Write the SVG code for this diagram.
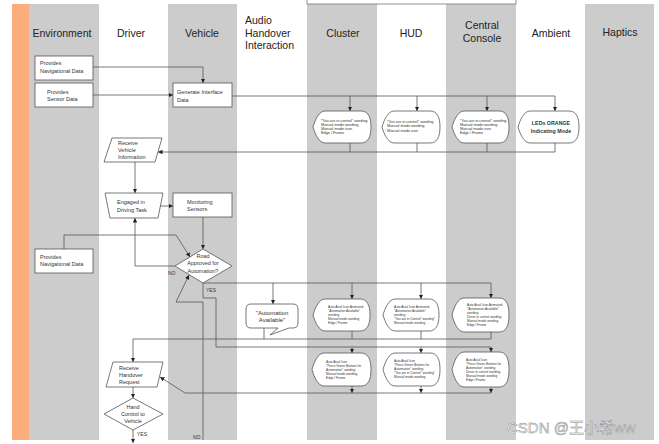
<svg xmlns="http://www.w3.org/2000/svg" width="659" height="444" viewBox="0 0 659 444">
<defs>
<marker id="ah" viewBox="0 0 8 8" markerWidth="4.5" markerHeight="4.5" refX="8" refY="4" orient="auto" markerUnits="userSpaceOnUse">
<path d="M0,0 L8,4 L0,8 z" fill="#222"/>
</marker>
</defs>
<style>
.lane{fill:#cccccc}
.title{font-family:"Liberation Sans",Arial,sans-serif;font-size:10.5px;fill:#222}
.box{fill:#fff;stroke:#555;stroke-width:0.8}
.t{font-family:"Liberation Sans",Arial,sans-serif;font-size:5.5px;fill:#333}
.s{font-family:"Liberation Sans",Arial,sans-serif;font-size:3.8px;fill:#333}
.xs{font-family:"Liberation Sans",Arial,sans-serif;font-size:3.2px;fill:#333}
.c{text-anchor:middle}
.ln{fill:none;stroke:#555;stroke-width:0.8}
.arr{marker-end:url(#ah)}
.lbl{font-family:"Liberation Sans",Arial,sans-serif;font-size:5px;fill:#333}
</style>
<rect width="659" height="444" fill="#fff"/>
<g id="lanes">
<rect x="12" y="4" width="17" height="436" fill="#fbae7c"/>
<rect class="lane" x="29" y="4" width="70" height="436"/>
<rect class="lane" x="168" y="4" width="69" height="436"/>
<rect class="lane" x="307" y="4" width="70" height="436"/>
<rect class="lane" x="446" y="4" width="70" height="436"/>
<rect class="lane" x="585" y="4" width="69" height="436"/>
<rect x="307" y="-10" width="209" height="14" fill="#fff" stroke="#777" stroke-width="0.8"/>
<text class="title c" x="62" y="37">Environment</text>
<text class="title c" x="131" y="37">Driver</text>
<text class="title c" x="202" y="37">Vehicle</text>
<text class="title" x="245" y="24">Audio</text>
<text class="title" x="245" y="37">Handover</text>
<text class="title" x="245" y="49">Interaction</text>
<text class="title c" x="343" y="37">Cluster</text>
<text class="title c" x="411" y="37">HUD</text>
<text class="title c" x="482" y="29">Central</text>
<text class="title c" x="482" y="42">Console</text>
<text class="title c" x="551" y="37">Ambient</text>
<text class="title c" x="620" y="36">Haptics</text>
</g>
<g id="connectors">
<path class="ln arr" d="M93,67 H203 V83"/>
<path class="ln arr" d="M93,95 H173"/>
<path class="ln" d="M232,96 H555"/>
<path class="ln arr" d="M350,96 V111"/>
<path class="ln arr" d="M417,96 V111"/>
<path class="ln arr" d="M487,96 V111"/>
<path class="ln arr" d="M555,96 V111"/>
<path class="ln" d="M350,143 V152 M417,143 V152 M487,143 V152"/>
<path class="ln arr" d="M555,143 V152 H158"/>
<path class="ln arr" d="M135,162 V193"/>
<path class="ln arr" d="M160,206 H173"/>
<path class="ln arr" d="M203,217 V249"/>
<path class="ln arr" d="M64,249 V235 H176 L190,257"/>
<path class="ln arr" d="M175,266 H135 V218"/>
<path class="ln" d="M203,283 H491"/>
<path class="ln arr" d="M273,283 V304"/>
<path class="ln arr" d="M352,283 V299"/>
<path class="ln arr" d="M421,283 V299"/>
<path class="ln arr" d="M491,283 V298"/>
<path class="ln" d="M203,283 V298 H216 V347 H491"/>
<path class="ln arr" d="M352,347 V353"/>
<path class="ln arr" d="M421,347 V353"/>
<path class="ln arr" d="M491,347 V352"/>
<path class="ln" d="M352,331 V339 M421,331 V339 M264,328 V339"/>
<path class="ln arr" d="M491,332 V339 H133 V362"/>
<path class="ln arr" d="M203,440 V302 H176 L189,275"/>
<path class="ln arr" d="M352,386 V393"/>
<path class="ln arr" d="M421,386 V393"/>
<path class="ln arr" d="M491,387 V393"/>
<path class="ln arr" d="M491,393 H185 L160,377"/>
<path class="ln arr" d="M133,387 V398"/>
<path class="ln arr" d="M133,430 V443"/>
<text class="lbl" x="168" y="275">NO</text>
<text class="lbl" x="206" y="292">YES</text>
<text class="lbl" x="193" y="439">NO</text>
<text class="lbl" x="137" y="436">YES</text>
</g>
<g id="nav1">
<rect class="box" x="35" y="56" width="58" height="24"/>
<text class="t" x="40" y="65">Provides</text>
<text class="t" x="40" y="72.5">Navigational Data</text>
</g>
<g id="sensor">
<rect class="box" x="35" y="83" width="58" height="24"/>
<text class="t" x="47" y="93.5">Provides</text>
<text class="t" x="47" y="101">Sensor Data</text>
</g>
<g id="generate">
<rect class="box" x="173" y="83" width="59" height="24"/>
<text class="t" x="177" y="94">Generate Interface</text>
<text class="t" x="177" y="101.5">Data</text>
</g>
<g id="cluster1">
<path class="box" d="M313,127 C315,120 319,111 325,111 H361 C368,111 371,117 371,127 C371,137 368,143 361,143 H325 C319,143 315,134 313,127 Z"/>
<text class="s" x="321" y="121.5">"You are in control"  wording</text>
<text class="s" x="321" y="125.8">Manual mode wording</text>
<text class="s" x="321" y="130">Manual mode icon</text>
<text class="s" x="321" y="134.3">Edge / Frame</text>
</g>
<g id="hud1">
<path class="box" d="M382,127 C384,120 388,111 394,111 H430 C437,111 440,117 440,127 C440,137 437,143 430,143 H394 C388,143 384,134 382,127 Z"/>
<text class="s" x="387" y="123">"You are in control" wording</text>
<text class="s" x="387" y="127.3">Manual mode wording</text>
<text class="s" x="387" y="131.5">Manual mode icon</text>
</g>
<g id="central1">
<path class="box" d="M452,127 C454,120 458,111 464,111 H499 C506,111 509,117 509,127 C509,137 506,143 499,143 H464 C458,143 454,134 452,127 Z"/>
<text class="s" x="460" y="121.5">"You are in control" wording</text>
<text class="s" x="460" y="125.8">Manual mode wording</text>
<text class="s" x="460" y="130">Manual mode icon</text>
<text class="s" x="460" y="134.3">Edge / Frame</text>
</g>
<g id="ambient">
<path class="box" d="M518,127 C520,120 524,111 530,111 H569 C576,111 579,117 579,127 C579,137 576,143 569,143 H530 C524,143 520,134 518,127 Z"/>
<text class="t c" x="551" y="125" style="font-size:5.3px;font-weight:bold">LEDs ORANGE</text>
<text class="t c" x="551" y="132.5" style="font-size:5.3px;font-weight:bold">Indicating Mode</text>
</g>
<g id="receiveVehicle">
<polygon class="box" points="112,138 162,138 155,162 104,162"/>
<text class="t" x="118" y="145">Receive</text>
<text class="t" x="118" y="152">Vehicle</text>
<text class="t" x="118" y="159">Information</text>
</g>
<g id="engaged">
<polygon class="box" points="105,193 163,193 158,218 110,218"/>
<text class="t" x="117" y="204">Engaged in</text>
<text class="t" x="117" y="212">Driving Task</text>
</g>
<g id="monitoring">
<rect class="box" x="173" y="193" width="59" height="24"/>
<text class="t" x="187" y="204">Monitoring</text>
<text class="t" x="187" y="211">Sensors</text>
</g>
<g id="nav2">
<rect class="box" x="35" y="249" width="58" height="24"/>
<text class="t" x="40" y="258.5">Provides</text>
<text class="t" x="40" y="266">Navigational Data</text>
</g>
<g id="road">
<polygon class="box" points="203,249 232,266 203,283 175,266"/>
<text class="t c" x="203" y="257.5">Road</text>
<text class="t c" x="203" y="265">Approved for</text>
<text class="t c" x="203" y="272.5">Automation?</text>
</g>
<g id="autoAvailable">
<path class="box" d="M251,304 H293 Q298,304 298,309 V323 Q298,328 293,328 H289 L270,335 L278,328 H251 Q246,328 246,323 V309 Q246,304 251,304 Z"/>
<text class="t c" x="272" y="314.5" style="font-size:6px">"Automation</text>
<text class="t c" x="272" y="322" style="font-size:6px">Available"</text>
</g>
<g id="cluster2">
<path class="box" d="M313,315 C315,308 319,299 325,299 H360 C367,299 370,305 370,315 C370,325 367,331 360,331 H325 C319,331 315,322 313,315 Z"/>
<text class="xs" x="328" y="308">Auto Avail Icon Animated</text>
<text class="xs" x="328" y="312">"Automation Available"</text>
<text class="xs" x="328" y="315.5">wording</text>
<text class="xs" x="328" y="320">Manual mode wording</text>
<text class="xs" x="328" y="324">Edge / Frame</text>
</g>
<g id="hud2">
<path class="box" d="M383,315 C385,308 389,299 395,299 H429 C436,299 439,305 439,315 C439,325 436,331 429,331 H395 C389,331 385,322 383,315 Z"/>
<text class="xs" x="394" y="308">Auto Avail Icon Animated</text>
<text class="xs" x="394" y="312">"Automation Available"</text>
<text class="xs" x="394" y="315.5">wording</text>
<text class="xs" x="394" y="320">"You are in Control" wording"</text>
<text class="xs" x="394" y="324">Manual mode wording</text>
</g>
<g id="central2">
<path class="box" d="M452,315 C454,307 458,298 464,298 H499 C506,298 509,304 509,315 C509,326 506,332 499,332 H464 C458,332 454,323 452,315 Z"/>
<text class="xs" x="467" y="306">Auto Avail Icon Animated</text>
<text class="xs" x="467" y="310">"Automation Available"</text>
<text class="xs" x="467" y="314">wording</text>
<text class="xs" x="467" y="318">Driver in control wording</text>
<text class="xs" x="467" y="322">Manual mode wording</text>
<text class="xs" x="467" y="326">Edge / Frame</text>
</g>
<g id="cluster3">
<path class="box" d="M312,369.5 C314,362 318,353 324,353 H361 C368,353 371,359 371,369.5 C371,380 368,386 361,386 H324 C318,386 314,377 312,369.5 Z"/>
<text class="xs" x="326" y="363">Auto Avail Icon</text>
<text class="xs" x="326" y="367">"Press Green Buttons for</text>
<text class="xs" x="326" y="371">Automation" wording</text>
<text class="xs" x="326" y="375">Manual mode wording</text>
<text class="xs" x="326" y="379">Edge / Frame</text>
</g>
<g id="hud3">
<path class="box" d="M383,369.5 C385,362 389,353 395,353 H430 C437,353 440,359 440,369.5 C440,380 437,386 430,386 H395 C389,386 385,377 383,369.5 Z"/>
<text class="xs" x="394" y="362">Auto Avail Icon</text>
<text class="xs" x="394" y="366">"Press Green Buttons for</text>
<text class="xs" x="394" y="370">Automation" wording</text>
<text class="xs" x="394" y="374">"You are in Control" wording"</text>
<text class="xs" x="394" y="378">Manual mode wording</text>
</g>
<g id="central3">
<path class="box" d="M452,369.5 C454,361 458,352 464,352 H499 C506,352 509,358 509,369.5 C509,381 506,387 499,387 H464 C458,387 454,378 452,369.5 Z"/>
<text class="xs" x="466" y="360.5">Auto Avail Icon</text>
<text class="xs" x="466" y="364.5">"Press Green Buttons for</text>
<text class="xs" x="466" y="368.5">Automation" wording</text>
<text class="xs" x="466" y="372.5">Driver in control wording</text>
<text class="xs" x="466" y="376.5">Manual mode wording</text>
<text class="xs" x="466" y="380.5">Edge / Frame</text>
</g>
<g id="receiveHandover">
<polygon class="box" points="113,362 163,362 157,387 106,387"/>
<text class="t" x="119" y="369.5">Receive</text>
<text class="t" x="119" y="377">Handover</text>
<text class="t" x="119" y="384">Request</text>
</g>
<g id="handControl">
<polygon class="box" points="133,398 163,414 133,430 104,414"/>
<text class="t c" x="133" y="408.5">Hand</text>
<text class="t c" x="133" y="416">Control to</text>
<text class="t c" x="133" y="423">Vehicle</text>
</g>
<text x="507" y="433" font-family="'Liberation Sans','Noto Sans CJK SC',sans-serif" font-size="15" fill="#fff" stroke="#888" stroke-width="0.5">CSDN @王小希ww</text>
</svg>
